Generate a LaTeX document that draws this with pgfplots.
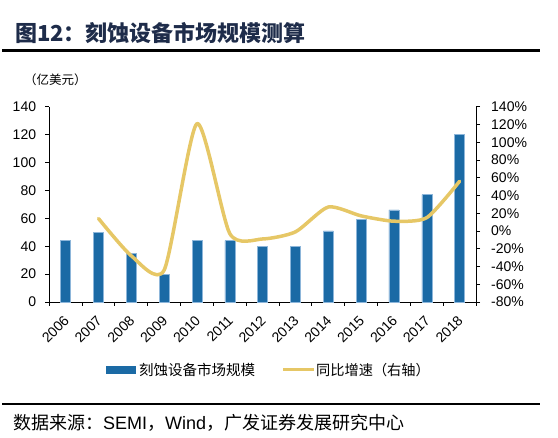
\documentclass[border=0pt]{standalone}
\usepackage{pgfplots}
\pgfplotsset{compat=1.18}
\usepackage{fontspec}
\setmainfont{Liberation Sans}
\newfontfamily\cjk{Noto Sans CJK SC}
\definecolor{barblue}{HTML}{1B6AA5}
\definecolor{barline}{HTML}{8DB6DA}
\definecolor{lineyellow}{HTML}{E6C766}
\definecolor{titlenavy}{HTML}{1E2C4A}
\begin{document}
\begin{tikzpicture}[x=1pt,y=1pt]
\path[use as bounding box] (0,0) rectangle (558,438);
% title
\node[anchor=west,inner sep=0pt,text=titlenavy] at (15,405) {\fontsize{22}{24}\selectfont\cjk\bfseries 图12：刻蚀设备市场规模测算};
\draw[line width=2.5pt] (2,387.3) -- (540,387.3);
\node[anchor=west,inner sep=0pt] at (24,358) {\fontsize{12.5}{14}\selectfont\cjk （亿美元）};
% left axis with bars
\begin{axis}[
  at={(49.3pt,136pt)}, anchor=south west,
  scale only axis, width=426.7pt, height=195.3pt,
  xmin=-0.5, xmax=12.5, ymin=0, ymax=140,
  axis x line*=bottom, axis y line*=left,
  axis line style={black, line width=0.9pt},
  tick align=outside,
  major tick length=4pt, minor tick length=4pt,
  tick style={black, line width=0.9pt},
  xtick={0,...,12},
  xticklabels={2006,2007,2008,2009,2010,2011,2012,2013,2014,2015,2016,2017,2018},
  major x tick style={draw=none},
  minor xtick={-0.5,0.5,...,12.5},
  ytick={0,20,...,140},
  /pgf/number format/assume math mode=true,
  ticklabel style={font=\fontsize{14}{16}\selectfont},
  xticklabel style={rotate=45, anchor=north east, inner sep=1pt, xshift=-7pt, yshift=-3pt},
  yticklabel style={inner sep=1pt, xshift=-8pt},
  clip=false,
]
\addplot[ybar, bar width=10pt, fill=barblue, draw=barline, line width=0.5pt] coordinates {
(0,44) (1,50) (2,35) (3,20) (4,44) (5,44) (6,40) (7,40) (8,51) (9,59) (10,66) (11,77) (12,120)};
\end{axis}
% right axis with line
\begin{axis}[
  at={(49.3pt,136pt)}, anchor=south west,
  scale only axis, width=426.7pt, height=195.3pt,
  xmin=-0.5, xmax=12.5, ymin=-80, ymax=140,
  axis x line=none, axis y line*=right,
  axis line style={black, line width=0.9pt},
  tick align=outside,
  major tick length=4pt,
  tick style={black, line width=0.9pt},
  ytick={-80,-60,...,140},
  yticklabel={\pgfmathprintnumber{\tick}\%},
  /pgf/number format/assume math mode=true,
  ticklabel style={font=\fontsize{14}{16}\selectfont},
  yticklabel style={inner sep=1pt, xshift=10pt},
  clip=false,
]
\addplot[smooth, tension=0.4, color=lineyellow, line width=3.5pt, line cap=round, line join=round, mark=none] coordinates {
(1,14) (2,-28) (3,-44) (4,121) (5,-3) (6,-9) (7,-1) (8,27) (9,17) (10,11) (11,15) (12,56)};
\end{axis}
% legend
\fill[barblue] (106,64) rectangle (136,72);
\node[anchor=west,inner sep=0pt] at (139,68) {\fontsize{14.5}{16}\selectfont\cjk 刻蚀设备市场规模};
\draw[lineyellow, line width=3pt] (283,68) -- (314,68);
\node[anchor=west,inner sep=0pt] at (316,68) {\fontsize{14.2}{16}\selectfont\cjk 同比增速（右轴）};
% source
\draw[line width=2pt] (2,34) -- (540,34);
\node[anchor=west,inner sep=0pt] at (13,15) {\fontsize{18}{20}\selectfont\cjk 数据来源：{\fontspec{Liberation Sans}SEMI}，{\fontspec{Liberation Sans}Wind}，广发证券发展研究中心};
\end{tikzpicture}
\end{document}
